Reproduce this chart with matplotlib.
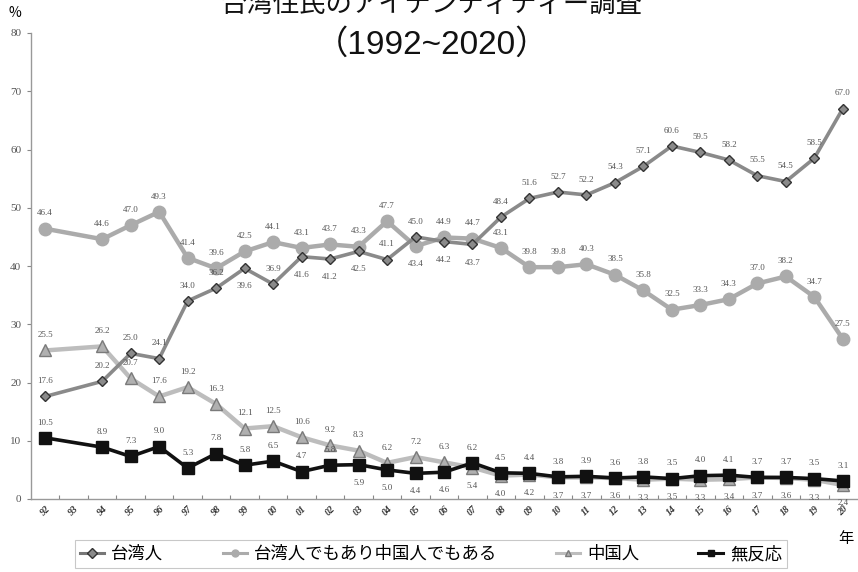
import matplotlib.pyplot as plt
from matplotlib.lines import Line2D
from matplotlib.ticker import FixedLocator

plt.rcParams['font.family'] = ['Noto Sans CJK JP', 'DejaVu Sans']

# 調査年（1993年は調査なし）
years = [1992, 1994, 1995, 1996, 1997, 1998, 1999, 2000, 2001, 2002, 2003, 2004, 2005,
         2006, 2007, 2008, 2009, 2010, 2011, 2012, 2013, 2014, 2015, 2016, 2017, 2018,
         2019, 2020]
tick_years = list(range(1992, 2021))
tick_labels = [f'{y % 100:02d}' for y in tick_years]

taiwanese = [17.6, 20.2, 25.0, 24.1, 34.0, 36.2, 39.6, 36.9, 41.6, 41.2, 42.5, 41.1, 45.0,
             44.2, 43.7, 48.4, 51.6, 52.7, 52.2, 54.3, 57.1, 60.6, 59.5, 58.2, 55.5, 54.5,
             58.5, 67.0]
both = [46.4, 44.6, 47.0, 49.3, 41.4, 39.6, 42.5, 44.1, 43.1, 43.7, 43.3, 47.7, 43.4,
        44.9, 44.7, 43.1, 39.8, 39.8, 40.3, 38.5, 35.8, 32.5, 33.3, 34.3, 37.0, 38.2,
        34.7, 27.5]
chinese = [25.5, 26.2, 20.7, 17.6, 19.2, 16.3, 12.1, 12.5, 10.6, 9.2, 8.3, 6.2, 7.2,
           6.3, 5.4, 4.0, 4.2, 3.7, 3.7, 3.6, 3.3, 3.5, 3.3, 3.4, 3.7, 3.6, 3.3, 2.4]
no_answer = [10.5, 8.9, 7.3, 9.0, 5.3, 7.8, 5.8, 6.5, 4.7, 5.8, 5.9, 5.0, 4.4,
             4.6, 6.2, 4.5, 4.4, 3.8, 3.9, 3.6, 3.8, 3.5, 4.0, 4.1, 3.7, 3.7, 3.5, 3.1]

# 数値ラベルを線の下に置く年
below_taiwanese = [1999, 2001, 2002, 2003, 2006, 2007]
below_both = [2005]
below_chinese = [y for y in years if y >= 2007]
below_no_answer = [2003, 2004, 2005, 2006]

series = [
    # 名前, 値, 線色, マーカー, マーカー色, 縁色, マーカーサイズ, 線幅, 下ラベル
    ('台湾人', taiwanese, '#8a8a8a', 'D', '#8a8a8a', '#333333', 5.5, 2.6, below_taiwanese),
    ('台湾人でもあり中国人でもある', both, '#ababab', 'o', '#ababab', '#ababab', 9, 3.2, below_both),
    ('中国人', chinese, '#bdbdbd', '^', '#b0b0b0', '#7a7a7a', 9, 3.2, below_chinese),
    ('無反応', no_answer, '#111111', 's', '#111111', '#111111', 8, 2.6, below_no_answer),
]

fig = plt.figure(figsize=(8.58, 5.72), dpi=100)
ax = fig.add_axes([31 / 858, 1 - 499 / 572, 826 / 858, 466 / 572])

for name, vals, lc, mk, mfc, mec, ms, lw, below in series:
    ax.plot(years, vals, color=lc, lw=lw, marker=mk, ms=ms, mfc=mfc, mec=mec,
            mew=1.0, zorder=3 if mk != 'D' else 4)
    for y, v in zip(years, vals):
        dy = -13 if y in below else 11
        ax.annotate(f'{v:.1f}', (y, v), xytext=(0, dy), textcoords='offset points',
                    ha='center', va='center', fontsize=6.5, color='#555555',
                    family='Liberation Serif', zorder=5)

ax.set_xlim(1991.5, 2020.5)
ax.set_ylim(0, 80)
ax.set_yticks(range(0, 81, 10))
ax.tick_params(axis='y', length=3, width=0.8, color='#888888', labelsize=8,
               labelcolor='#555555', pad=4)
for lab in ax.get_yticklabels():
    lab.set_family('Liberation Serif')

ax.set_xticks(tick_years)
ax.set_xticklabels(tick_labels, rotation=45, fontsize=7, fontweight='bold',
                   style='italic', family='Liberation Serif', color='#333333')
ax.tick_params(axis='x', which='major', length=0, pad=4)
ax.xaxis.set_minor_locator(FixedLocator([y + 0.5 for y in tick_years[:-1]]))
ax.tick_params(axis='x', which='minor', direction='in', length=3, width=0.8,
               color='#888888')

for s in ['top', 'right']:
    ax.spines[s].set_visible(False)
for s in ['left', 'bottom']:
    ax.spines[s].set_color('#999999')
    ax.spines[s].set_linewidth(1.0)

# タイトル
fig.text(0.503, 1 - 4 / 572, '台湾住民のアイデンティティー調査', ha='center', va='center',
         fontsize=19, color='#111111')
fig.text(0.503, 1 - 45 / 572, '（1992~2020）', ha='center', va='center',
         fontsize=24, color='#111111', family=['Liberation Sans', 'Noto Sans CJK JP'])
fig.text(15 / 858, 1 - 13 / 572, '%', ha='center', va='center', fontsize=10)
fig.text(846 / 858, 1 - 538 / 572, '年', ha='center', va='center', fontsize=11)

# 凡例
handles = [Line2D([], [], color=lc, lw=2.2, marker=mk, ms=5, mfc=mfc, mec=mec)
           for _, _, lc, mk, mfc, mec, _, _, _ in series]
handles[0].set_color('#777777')
leg = fig.legend(handles, [s[0] for s in series], loc='center',
                 bbox_to_anchor=(431 / 858, 1 - 554 / 572), ncol=4, fontsize=12.5,
                 frameon=True, fancybox=False, handlelength=1.4, handletextpad=0.4,
                 columnspacing=3.4, borderpad=0.3, borderaxespad=0)
leg.get_frame().set_edgecolor('#bbbbbb')
leg.get_frame().set_linewidth(0.8)

fig.savefig('out.png', dpi=100)
